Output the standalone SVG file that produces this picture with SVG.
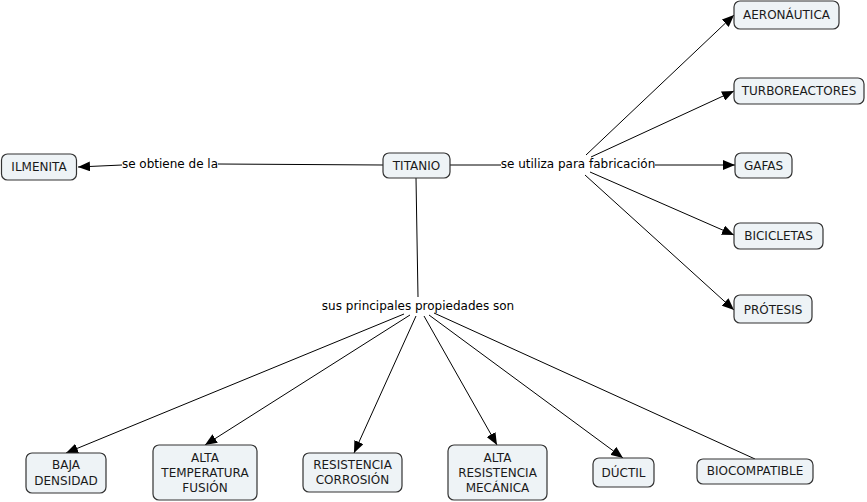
<svg xmlns="http://www.w3.org/2000/svg" width="867" height="502" viewBox="0 0 867 502">
<style>
.n rect{fill:#eef3f6;stroke:#333;stroke-width:1.2}
text{font-family:"DejaVu Sans",Verdana,sans-serif;font-size:12px;fill:#1a1a1a;text-anchor:middle}
.c line{stroke:#000;stroke-width:1}
.lbl{fill:#000}
</style>
<defs>
<marker id="a" viewBox="0 0 12 10" refX="12" refY="5" markerWidth="12" markerHeight="10" markerUnits="userSpaceOnUse" orient="auto">
<path d="M0,0 L12,5 L0,10 Z" fill="#000"/>
</marker>
</defs>
<rect width="867" height="502" fill="#fff"/>
<g class="c">
<line x1="383" y1="165" x2="218" y2="164"/>
<line x1="122" y1="165" x2="78" y2="167" marker-end="url(#a)"/>
<line x1="450" y1="165" x2="501" y2="165"/>
<line x1="655" y1="165" x2="735" y2="165" marker-end="url(#a)"/>
<line x1="586" y1="155" x2="734" y2="15" marker-end="url(#a)"/>
<line x1="591" y1="157" x2="734" y2="91" marker-end="url(#a)"/>
<line x1="590" y1="172" x2="734" y2="235" marker-end="url(#a)"/>
<line x1="585" y1="175" x2="734" y2="310" marker-end="url(#a)"/>
<line x1="416" y1="178" x2="418" y2="297"/>
<line x1="404" y1="314" x2="66" y2="453" marker-end="url(#a)"/>
<line x1="410" y1="315" x2="205" y2="445" marker-end="url(#a)"/>
<line x1="416" y1="316" x2="354" y2="453" marker-end="url(#a)"/>
<line x1="424" y1="316" x2="497" y2="445" marker-end="url(#a)"/>
<line x1="429" y1="315" x2="623" y2="458" marker-end="url(#a)"/>
<line x1="434" y1="313" x2="755" y2="459"/>
</g>
<g id="lbl-obtiene"><text x="170" y="168" class="lbl">se obtiene de la</text></g>
<g id="lbl-utiliza"><text x="578" y="168" class="lbl">se utiliza para fabricación</text></g>
<g id="lbl-propiedades"><text x="418" y="310" class="lbl">sus principales propiedades son</text></g>
<g id="titanio" class="n"><rect x="383" y="153" width="67" height="25" rx="6"/><text x="416.5" y="169.5">TITANIO</text></g>
<g id="ilmenita" class="n"><rect x="1.5" y="154" width="75" height="26" rx="6"/><text x="39" y="171">ILMENITA</text></g>
<g id="aeronautica" class="n"><rect x="734" y="1" width="105" height="28" rx="6"/><text x="786.5" y="19">AERONÁUTICA</text></g>
<g id="turboreactores" class="n"><rect x="734" y="78" width="130" height="26" rx="6"/><text x="799" y="95">TURBOREACTORES</text></g>
<g id="gafas" class="n"><rect x="735" y="153" width="57" height="25" rx="6"/><text x="763.5" y="170">GAFAS</text></g>
<g id="bicicletas" class="n"><rect x="734" y="223" width="89" height="26" rx="6"/><text x="778.5" y="240">BICICLETAS</text></g>
<g id="protesis" class="n"><rect x="734" y="295" width="78" height="28" rx="6"/><text x="773" y="314">PRÓTESIS</text></g>
<g id="baja" class="n"><rect x="26" y="453" width="80" height="40" rx="6"/><text x="66" y="469">BAJA</text><text x="66" y="485">DENSIDAD</text></g>
<g id="temp" class="n"><rect x="153" y="445" width="104" height="55" rx="6"/><text x="205" y="462">ALTA</text><text x="205" y="477">TEMPERATURA</text><text x="205" y="492">FUSIÓN</text></g>
<g id="corrosion" class="n"><rect x="303" y="453" width="99" height="39" rx="6"/><text x="352.5" y="469">RESISTENCIA</text><text x="352.5" y="484">CORROSIÓN</text></g>
<g id="mecanica" class="n"><rect x="448" y="445" width="99" height="55" rx="6"/><text x="497.5" y="462">ALTA</text><text x="497.5" y="477">RESISTENCIA</text><text x="497.5" y="492">MECÁNICA</text></g>
<g id="ductil" class="n"><rect x="593" y="458" width="61" height="29" rx="6"/><text x="623.5" y="477">DÚCTIL</text></g>
<g id="biocompatible" class="n"><rect x="697" y="459" width="116" height="25" rx="6"/><text x="755" y="475">BIOCOMPATIBLE</text></g>
</svg>
